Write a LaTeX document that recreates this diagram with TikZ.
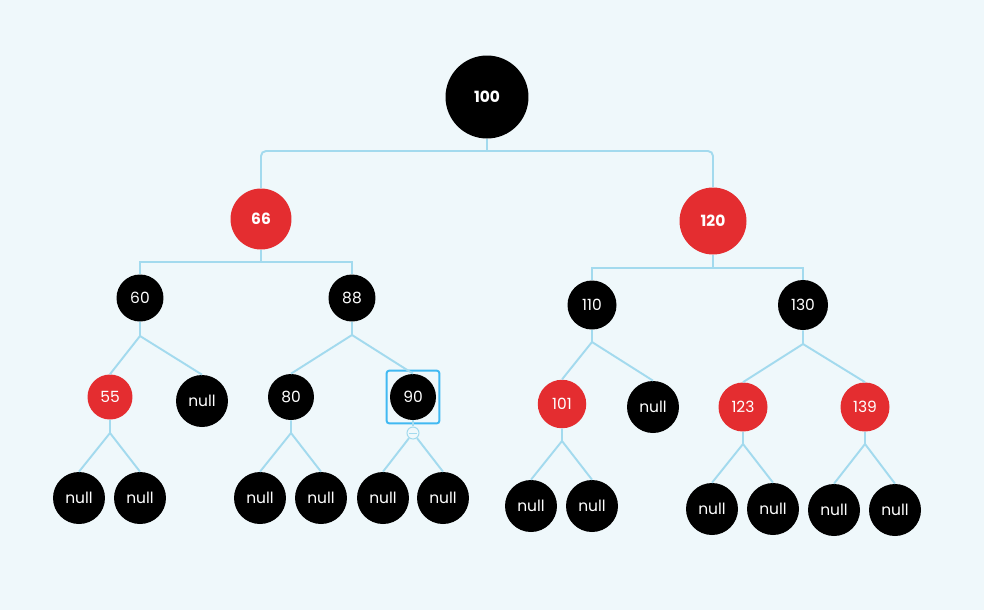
\documentclass[tikz,border=0pt]{standalone}
\usepackage{fontspec}
\setmainfont{Poppins}
\usepackage{xcolor}
\usepackage{tikz}
\usetikzlibrary{positioning,fit}
\definecolor{paleback}{HTML}{EFF8FB}
\definecolor{wireblue}{HTML}{A3DAEE}
\definecolor{selblue}{HTML}{40B9F2}
\definecolor{rbred}{HTML}{E42D30}

\begin{document}
\begin{tikzpicture}[x=0.02cm,y=-0.02cm,font=\fontsize{8.8}{10}\selectfont,
  blk/.style={circle,fill=black,text=white,inner sep=0pt,minimum size=#1},
  blk/.default=1.04cm,
  rd/.style={circle,fill=rbred,text=white,inner sep=0pt,minimum size=#1},
  rd/.default=0.97cm,
  nil/.style={blk=1.04cm},
  heavy/.style={font=\fontsize{8.8}{10}\selectfont\bfseries},
  wire/.style={draw=wireblue,line width=1.1pt},
  sel/.style={rectangle,draw=selblue,line width=1.1pt,rounded corners=0.05cm,inner sep=0.06cm},
  knob/.style={circle,draw=wireblue,fill=paleback,line width=0.6pt,inner sep=0pt,minimum size=0.24cm,
    path picture={\draw[wireblue,line width=0.5pt] ([xshift=-0.08cm]path picture bounding box.center) -- ([xshift=0.08cm]path picture bounding box.center);}}
]
\fill[paleback] (0,0) rectangle (984,610);
\useasboundingbox (0,0) rectangle (984,610);
% root and second row
\node[blk=1.66cm,heavy] (n100) at (487,97) {100};
\node[rd=1.22cm,heavy] (n66) at (261,219) {66};
\node[rd=1.34cm,heavy] (n120) at (713,221) {120};
% third row
\node[blk=0.94cm] (n60) at (140,298) {60};
\node[blk=0.94cm] (n88) at (352,298) {88};
\node[blk=0.98cm] (n110) at (592,305) {110};
\node[blk=1cm] (n130) at (803,305) {130};
% fourth row
\node[rd=0.9cm] (n55) at (110,397) {55};
\node[nil] (n60r) at (202,401) {null};
\node[blk=0.92cm] (n80) at (291,397) {80};
\node[blk=0.92cm] (n90) at (413,397) {90};
\node[rd] (n101) at (562,404) {101};
\node[nil] (n110r) at (653,407) {null};
\node[rd=0.98cm] (n123) at (743,407) {123};
\node[rd=0.98cm] (n139) at (865,407) {139};
% leaves
\node[nil] (n55a) at (79,498) {null};
\node[nil] (n55b) at (140,498) {null};
\node[nil] (n80a) at (260,498) {null};
\node[nil] (n80b) at (321,498) {null};
\node[nil] (n90a) at (383,498) {null};
\node[nil] (n90b) at (443,498) {null};
\node[nil] (n101a) at (531,506) {null};
\node[nil] (n101b) at (592,506) {null};
\node[nil] (n123a) at (712,509) {null};
\node[nil] (n123b) at (773,509) {null};
\node[nil] (n139a) at (834,510) {null};
\node[nil] (n139b) at (895,510) {null};
% selection box and fold knob on 90
\node[sel,fit=(n90)] (s90) {};
\node[knob] (k90) at (413,433) {};
% branch points
\coordinate (b100) at (487,151);
\coordinate (b66) at (261,262);
\coordinate (b120) at (713,268);
\coordinate (b60) at (140,336);
\coordinate (b88) at (352,335);
\coordinate (b110) at (592,342);
\coordinate (b130) at (803,344);
\coordinate (b55) at (110,433);
\coordinate (b80) at (291,433);
\coordinate (b101) at (562,441);
\coordinate (b123) at (743,444);
\coordinate (b139) at (865,444);
% buses
\draw[wire] (n100) -- (b100);
\draw[wire,rounded corners=0.1cm] (n66.north) |- (b100) -| (n120.north);
\draw[wire] (n66) -- (b66);
\draw[wire] (n60.north) |- (b66) -| (n88.north);
\draw[wire] (n120) -- (b120);
\draw[wire] (n110.north) |- (b120) -| (n130.north);
% forks
\draw[wire] (n60) -- (b60) -- (n55.north);
\draw[wire] (b60) -- (n60r.north);
\draw[wire] (n88) -- (b88) -- (n80.north);
\draw[wire] (b88) -- (n90.north);
\draw[wire] (n110) -- (b110) -- (n101.north);
\draw[wire] (b110) -- (n110r.north);
\draw[wire] (n130) -- (b130) -- (n123.north);
\draw[wire] (b130) -- (n139.north);
\draw[wire] (n55) -- (b55) -- (n55a.north);
\draw[wire] (b55) -- (n55b.north);
\draw[wire] (n80) -- (b80) -- (n80a.north);
\draw[wire] (b80) -- (n80b.north);
\draw[wire] (n90) -- (k90);
\draw[wire] (k90) -- (n90a.north);
\draw[wire] (k90) -- (n90b.north);
\draw[wire] (n101) -- (b101) -- (n101a.north);
\draw[wire] (b101) -- (n101b.north);
\draw[wire] (n123) -- (b123) -- (n123a.north);
\draw[wire] (b123) -- (n123b.north);
\draw[wire] (n139) -- (b139) -- (n139a.north);
\draw[wire] (b139) -- (n139b.north);
\end{tikzpicture}
\end{document}
